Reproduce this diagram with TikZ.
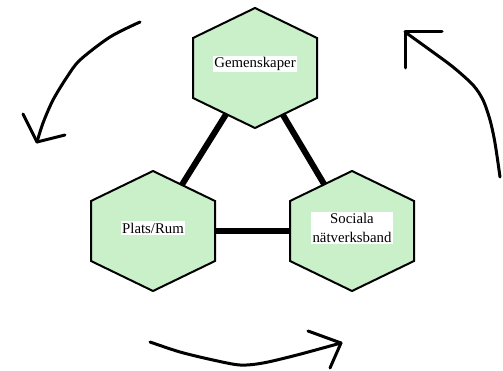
\documentclass[tikz,border=0pt]{standalone}
\usepackage{fontspec}
\setmainfont{Liberation Serif}
\definecolor{hexgreen}{RGB}{202,240,202}
\begin{document}
\begin{tikzpicture}[x=1pt,y=-1pt,
  hexshape/.style={draw=black, line width=2pt, fill=hexgreen, line join=miter},
  conn/.style={draw=black, line width=6pt},
  arr/.style={draw=black, line width=3pt, line cap=round, line join=round},
  lab/.style={fill=white, inner sep=1.5pt, align=center, font=\fontsize{14.8}{19}\selectfont},
  hexpic/.pic={\path[hexshape] (0,-60) -- (62,-30) -- (62,30) -- (0,60) -- (-62,30) -- (-62,-30) -- cycle;}
]
\useasboundingbox (0,0) rectangle (503,371);
% hexagon centres
\coordinate (g) at (255,68);
\coordinate (p) at (153,231);
\coordinate (s) at (352,231);
% connectors
\draw[conn] (g) -- (p);
\draw[conn] (g) -- (s);
\draw[conn] (p) -- (s);
% hexagons
\pic at (g) {hexpic};
\pic at (p) {hexpic};
\pic at (s) {hexpic};
% labels
\node[lab] (G) at (255,64) {Gemenskaper};
\node[lab] (P) at (153,228) {Plats/Rum};
\node[lab] (S) at (352,228) {Sociala\\nätverksband};
% circular arrows
\coordinate (lt) at (37,142);
\coordinate (rt) at (405,32);
\coordinate (bt) at (341,343);
\draw[arr] plot[smooth] coordinates {(140,22) (110,37) (80,60) (67,77) (53,100) (43,123) (lt)};
\draw[arr] (lt) -- (23,114);
\draw[arr] (lt) -- (65,135);
\draw[arr] plot[smooth] coordinates {(500,177) (495,143) (490,120) (483,100) (473,85) (453,67) (430,50) (rt)};
\draw[arr] (rt) -- (442,32);
\draw[arr] (rt) -- (405,68);
\draw[arr] plot[smooth] coordinates {(150,342) (180,352) (213,360) (240,365) (263,363) (297,355) (bt)};
\draw[arr] (bt) -- (308,331);
\draw[arr] (bt) -- (330,368);
\end{tikzpicture}
\end{document}
